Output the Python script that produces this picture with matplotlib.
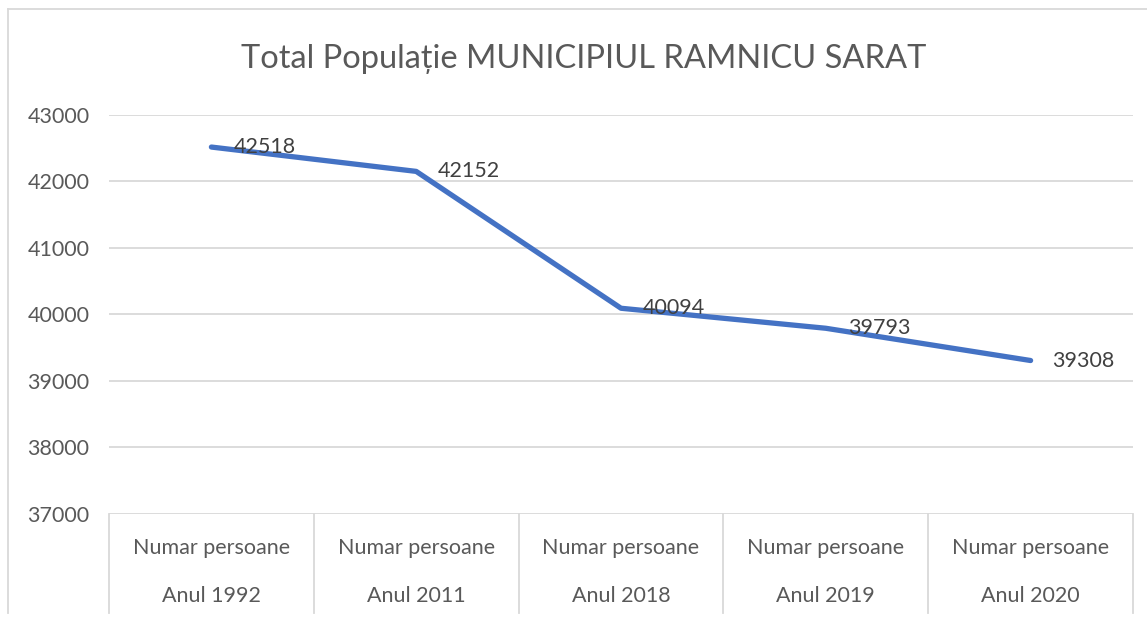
import numpy as np
import matplotlib.pyplot as plt
from matplotlib.lines import Line2D

plt.rcParams['font.family'] = ['Lato', 'DejaVu Sans']

title = 'Total Populație MUNICIPIUL RAMNICU SARAT'
row1 = ['Numar persoane'] * 5
row2 = ['Anul 1992', 'Anul 2011', 'Anul 2018', 'Anul 2019', 'Anul 2020']
populatie = [42518, 42152, 40094, 39793, 39308]
yticks = [37000, 38000, 39000, 40000, 41000, 42000, 43000]

txt = '#595959'
grid = '#d9d9d9'

W, H = 1147, 621
fig = plt.figure(figsize=(W / 100, H / 100), dpi=100)
ax = fig.add_axes([109 / W, 1 - 514 / H, (1133 - 109) / W, (514 - 115) / H])

x = np.arange(len(populatie))
ax.plot(x, populatie, color='#4472c4', lw=3.8, solid_capstyle='round',
        solid_joinstyle='round', zorder=3)
for xi, v in zip(x, populatie):
    ax.annotate(str(v), (xi, v), xytext=(22, 0), textcoords='offset pixels',
                ha='left', va='center', fontsize=15.5, color='#404040', zorder=4)

ax.set_xlim(-0.5, len(populatie) - 0.5)
ax.set_ylim(37000, 43000)
ax.set_yticks(yticks)
ax.set_yticklabels([str(t) for t in yticks], color=txt, fontsize=15.5)
ax.tick_params(axis='y', length=0, pad=14)
ax.set_xticks([])
ax.grid(axis='y', color=grid, lw=1.3)
ax.set_axisbelow(True)
for s in ax.spines.values():
    s.set_visible(False)

# multi-level category axis
trans = ax.get_xaxis_transform()
for b in np.arange(len(populatie) + 1) - 0.5:
    ax.add_line(Line2D([b, b], [0, -0.248], transform=trans, color=grid,
                       lw=1.3, clip_on=False))
for xi, a, b in zip(x, row1, row2):
    ax.text(xi, -0.085, a, transform=trans, ha='center', va='center',
            fontsize=15.5, color=txt)
    ax.text(xi, -0.205, b, transform=trans, ha='center', va='center',
            fontsize=15.5, color=txt)

# chart border
fig.add_artist(Line2D([8 / W, 8 / W], [1 - 9 / H, 1 - 613 / H], color=grid, lw=1.3))
fig.add_artist(Line2D([8 / W, 1], [1 - 9 / H, 1 - 9 / H], color=grid, lw=1.3))

fig.text(584 / W, 1 - 59 / H, title, ha='center', va='center',
         fontsize=23.5, color=txt)

fig.savefig('out.png', dpi=100, facecolor='white')
